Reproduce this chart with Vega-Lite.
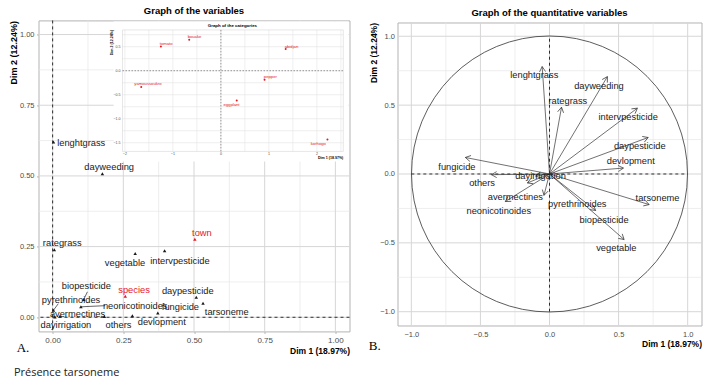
{
  "$schema": "https://vega.github.io/schema/vega-lite/v6.json",
  "padding": {"left": 8.5, "top": 5, "right": 9, "bottom": 5},
  "background": "white",
  "title": {"text": "Présence tarsoneme", "orient": "bottom", "anchor": "start", "font": "Open Sans", "fontSize": 11, "fontWeight": "normal", "color": "#222222", "offset": 11, "dx": 5},
  "datasets": {
    "one": [{}],
    "amaj": [{"v": 0}, {"v": 0.25}, {"v": 0.5}, {"v": 0.75}, {"v": 1}],
    "amin": [{"v": 0.125}, {"v": 0.375}, {"v": 0.625}, {"v": 0.875}],
    "bmaj": [{"v": -1}, {"v": -0.5}, {"v": 0}, {"v": 0.5}, {"v": 1}],
    "bmin": [{"v": -0.75}, {"v": -0.25}, {"v": 0.25}, {"v": 0.75}],
    "avars": [
      {"name": "lenghtgrass", "grp": "quanti", "x": 0.003, "y": 0.62, "lx": 0.101, "ly": 0.615},
      {"name": "dayweeding", "grp": "quanti", "x": 0.176, "y": 0.508, "lx": 0.2, "ly": 0.531},
      {"name": "rategrass", "grp": "quanti", "x": 0.006, "y": 0.239, "lx": 0.034, "ly": 0.262},
      {"name": "vegetable", "grp": "quanti", "x": 0.292, "y": 0.226, "lx": 0.256, "ly": 0.192},
      {"name": "intervpesticide", "grp": "quanti", "x": 0.396, "y": 0.235, "lx": 0.45, "ly": 0.2},
      {"name": "town", "grp": "quali", "x": 0.503, "y": 0.276, "lx": 0.528, "ly": 0.298},
      {"name": "species", "grp": "quali", "x": 0.257, "y": 0.074, "lx": 0.288, "ly": 0.095},
      {"name": "daypesticide", "grp": "quanti", "x": 0.508, "y": 0.071, "lx": 0.478, "ly": 0.094},
      {"name": "tarsoneme", "grp": "quanti", "x": 0.532, "y": 0.05, "lx": 0.616, "ly": 0.017},
      {"name": "fungicide", "grp": "quanti", "x": 0.372, "y": 0.015, "lx": 0.452, "ly": 0.035},
      {"name": "devlopment", "grp": "quanti", "x": 0.282, "y": 0.005, "lx": 0.386, "ly": -0.017},
      {"name": "others", "grp": "quanti", "x": 0.183, "y": 0.003, "lx": 0.233, "ly": -0.028},
      {"name": "neonicotinoides", "grp": "quanti", "x": 0.1, "y": 0.037, "lx": 0.292, "ly": 0.039},
      {"name": "biopesticide", "grp": "quanti", "x": 0.11, "y": 0.063, "lx": 0.119, "ly": 0.11},
      {"name": "pyrethrinoides", "grp": "quanti", "x": 0.003, "y": 0.025, "lx": 0.065, "ly": 0.06},
      {"name": "avermectines", "grp": "quanti", "x": 0.026, "y": 0.004, "lx": 0.088, "ly": 0.012},
      {"name": "dayirrigation", "grp": "quanti", "x": 0.008, "y": 0.001, "lx": 0.047, "ly": -0.029}
    ],
    "aseg": [
      {"x": 0.1, "y": 0.037, "x2": 0.186, "y2": 0.041},
      {"x": 0.11, "y": 0.063, "x2": 0.123, "y2": 0.09},
      {"x": 0.003, "y": 0.025, "x2": 0.02, "y2": 0.048}
    ],
    "cats": [
      {"name": "tomato", "x": -1.25, "y": 0.506, "lx": -1.14, "ly": 0.554},
      {"name": "bouake", "x": -0.66, "y": 0.646, "lx": -0.55, "ly": 0.7},
      {"name": "abidjan", "x": 1.35, "y": 0.45, "lx": 1.47, "ly": 0.5},
      {"name": "yamoussoukro", "x": -1.66, "y": -0.34, "lx": -1.52, "ly": -0.28},
      {"name": "pepper", "x": 0.91, "y": -0.19, "lx": 1.03, "ly": -0.13},
      {"name": "eggplant", "x": 0.33, "y": -0.62, "lx": 0.22, "ly": -0.71},
      {"name": "korhogo", "x": 2.22, "y": -1.43, "lx": 2.03, "ly": -1.52}
    ],
    "igx": [{"v": -2}, {"v": -1.5}, {"v": -1}, {"v": -0.5}, {"v": 0}, {"v": 0.5}, {"v": 1}, {"v": 1.5}, {"v": 2}, {"v": 2.5}],
    "igy": [{"v": -1.5}, {"v": -1.25}, {"v": -1}, {"v": -0.75}, {"v": -0.5}, {"v": -0.25}, {"v": 0}, {"v": 0.25}, {"v": 0.5}, {"v": 0.75}],
    "itx": [{"v": -2}, {"v": -1}, {"v": 0}, {"v": 1}, {"v": 2}],
    "ity": [{"v": -1.5}, {"v": -1}, {"v": -0.5}, {"v": 0}, {"v": 0.5}],
    "bvars": [
      {"name": "lenghtgrass", "x": -0.053, "y": 0.78, "lx": -0.11, "ly": 0.72},
      {"name": "dayweeding", "x": 0.419, "y": 0.707, "lx": 0.358, "ly": 0.642},
      {"name": "rategrass", "x": 0.087, "y": 0.485, "lx": 0.133, "ly": 0.531},
      {"name": "intervpesticide", "x": 0.636, "y": 0.478, "lx": 0.569, "ly": 0.413},
      {"name": "daypesticide", "x": 0.714, "y": 0.265, "lx": 0.653, "ly": 0.2},
      {"name": "devlopment", "x": 0.535, "y": 0.043, "lx": 0.588, "ly": 0.091},
      {"name": "fungicide", "x": -0.609, "y": 0.12, "lx": -0.67, "ly": 0.048},
      {"name": "others", "x": -0.42, "y": -0.005, "lx": -0.488, "ly": -0.065},
      {"name": "dayirrigation", "x": -0.1, "y": -0.015, "lx": -0.065, "ly": -0.012},
      {"name": "avermectines", "x": -0.16, "y": -0.065, "lx": -0.247, "ly": -0.17},
      {"name": "neonicotinoides", "x": -0.32, "y": -0.2, "lx": -0.367, "ly": -0.271},
      {"name": "pyrethrinoides", "x": -0.04, "y": -0.155, "lx": 0.201, "ly": -0.217},
      {"name": "biopesticide", "x": 0.334, "y": -0.265, "lx": 0.395, "ly": -0.331},
      {"name": "vegetable", "x": 0.54, "y": -0.476, "lx": 0.484, "ly": -0.536},
      {"name": "tarsoneme", "x": 0.721, "y": -0.222, "lx": 0.782, "ly": -0.174}
    ]
  },
  "spacing": 17,
  "center": true,
  "hconcat": [
    {
      "width": 311,
      "height": 311,
      "title": {"text": "Graph of the variables"},
      "layer": [
        {
          "layer": [
            {
              "data": {"name": "amin"},
              "mark": {"type": "rule", "color": "#e6e6e6", "strokeWidth": 0.7},
              "encoding": {"x": {"field": "v", "type": "quantitative", "scale": {"domain": [-0.05, 1.05], "nice": false, "zero": false}}}
            },
            {
              "data": {"name": "amin"},
              "mark": {"type": "rule", "color": "#e6e6e6", "strokeWidth": 0.7},
              "encoding": {"y": {"field": "v", "type": "quantitative", "scale": {"domain": [-0.05, 1.05], "nice": false, "zero": false}}}
            },
            {
              "data": {"name": "amaj"},
              "mark": {"type": "rule", "color": "#d6d6d6", "strokeWidth": 1},
              "encoding": {"x": {"field": "v", "type": "quantitative", "scale": {"domain": [-0.05, 1.05], "nice": false, "zero": false}}}
            },
            {
              "data": {"name": "amaj"},
              "mark": {"type": "rule", "color": "#d6d6d6", "strokeWidth": 1},
              "encoding": {"y": {"field": "v", "type": "quantitative", "scale": {"domain": [-0.05, 1.05], "nice": false, "zero": false}}}
            },
            {
              "data": {"name": "one"},
              "mark": {"type": "rule", "strokeDash": [3, 3], "color": "#000000", "strokeWidth": 0.8},
              "encoding": {"x": {"datum": 0, "type": "quantitative", "scale": {"domain": [-0.05, 1.05], "nice": false, "zero": false}}}
            },
            {
              "data": {"name": "one"},
              "mark": {"type": "rule", "strokeDash": [3, 3], "color": "#000000", "strokeWidth": 0.8},
              "encoding": {"y": {"datum": 0, "type": "quantitative", "scale": {"domain": [-0.05, 1.05], "nice": false, "zero": false}}}
            },
            {
              "data": {"name": "aseg"},
              "mark": {"type": "rule", "color": "#222222", "strokeWidth": 0.7},
              "encoding": {
                "x": {"field": "x", "type": "quantitative", "scale": {"domain": [-0.05, 1.05], "nice": false, "zero": false}},
                "y": {"field": "y", "type": "quantitative", "scale": {"domain": [-0.05, 1.05], "nice": false, "zero": false}},
                "x2": {"field": "x2"},
                "y2": {"field": "y2"}
              }
            },
            {
              "data": {"name": "avars"},
              "mark": {"type": "point", "shape": "triangle-up", "filled": true, "size": 12, "opacity": 1},
              "encoding": {
                "x": {
                  "field": "x", "type": "quantitative",
                  "scale": {"domain": [-0.05, 1.05], "nice": false, "zero": false},
                  "axis": {
                    "grid": false,
                    "values": [0, 0.25, 0.5, 0.75, 1],
                    "format": ".2f",
                    "title": "Dim 1 (18.97%)", "titleAnchor": "end",
                    "ticks": true, "tickSize": 2, "tickColor": "#b3b3b3", "labelPadding": 3, "titlePadding": 2
                  }
                },
                "y": {
                  "field": "y", "type": "quantitative",
                  "scale": {"domain": [-0.05, 1.05], "nice": false, "zero": false},
                  "axis": {
                    "grid": false,
                    "values": [0, 0.25, 0.5, 0.75, 1],
                    "format": ".2f",
                    "title": "Dim 2 (12.24%)", "titleAnchor": "end", "titleFontSize": 9,
                    "ticks": true, "tickSize": 2, "tickColor": "#b3b3b3", "labelFontSize": 7.5, "labelPadding": 2.5, "titlePadding": 1
                  }
                },
                "color": {"field": "grp", "type": "nominal", "scale": {"domain": ["quanti", "quali"], "range": ["#1a1a1a", "#e5171f"]}, "legend": null}
              }
            },
            {
              "data": {"name": "avars"},
              "mark": {"type": "text", "fontSize": 9.3},
              "encoding": {
                "x": {"field": "lx", "type": "quantitative", "scale": {"domain": [-0.05, 1.05], "nice": false, "zero": false}},
                "y": {"field": "ly", "type": "quantitative", "scale": {"domain": [-0.05, 1.05], "nice": false, "zero": false}},
                "text": {"field": "name"},
                "color": {"field": "grp", "type": "nominal", "scale": {"domain": ["quanti", "quali"], "range": ["#1a1a1a", "#e5171f"]}, "legend": null}
              }
            },
            {
              "data": {"name": "one"},
              "mark": {"type": "text", "font": "Liberation Serif", "fontSize": 13, "color": "#000000"},
              "encoding": {
                "x": {"datum": -0.105, "type": "quantitative", "scale": {"domain": [-0.05, 1.05], "nice": false, "zero": false}},
                "y": {"datum": -0.109, "type": "quantitative", "scale": {"domain": [-0.05, 1.05], "nice": false, "zero": false}},
                "text": {"value": "A."}
              }
            }
          ]
        },
        {
          "layer": [
            {
              "data": {"name": "one"},
              "mark": {"type": "rect", "color": "#ffffff", "opacity": 1},
              "encoding": {
                "x": {"datum": -2.235, "type": "quantitative", "scale": {"domain": [-2.05, 2.55], "range": [84, 304.8], "nice": false, "zero": false}, "axis": null},
                "x2": {"datum": 2.66},
                "y": {"datum": -1.89, "type": "quantitative", "scale": {"domain": [-1.68, 0.85], "range": [131, 9.5], "nice": false, "zero": false}, "axis": null},
                "y2": {"datum": 1.027}
              }
            },
            {
              "data": {"name": "igx"},
              "mark": {"type": "rule", "color": "#e3e3e3", "strokeWidth": 0.6},
              "encoding": {
                "x": {"field": "v", "type": "quantitative", "scale": {"domain": [-2.05, 2.55], "range": [84, 304.8], "nice": false, "zero": false}, "axis": null},
                "y": {"datum": -1.68, "type": "quantitative", "scale": {"domain": [-1.68, 0.85], "range": [131, 9.5], "nice": false, "zero": false}, "axis": null},
                "y2": {"datum": 0.85}
              }
            },
            {
              "data": {"name": "igy"},
              "mark": {"type": "rule", "color": "#e3e3e3", "strokeWidth": 0.6},
              "encoding": {
                "y": {"field": "v", "type": "quantitative", "scale": {"domain": [-1.68, 0.85], "range": [131, 9.5], "nice": false, "zero": false}, "axis": null},
                "x": {"datum": -2.05, "type": "quantitative", "scale": {"domain": [-2.05, 2.55], "range": [84, 304.8], "nice": false, "zero": false}, "axis": null},
                "x2": {"datum": 2.55}
              }
            },
            {
              "data": {"name": "one"},
              "mark": {"type": "rect", "fillOpacity": 0, "stroke": "#cfcfcf", "strokeWidth": 0.5},
              "encoding": {
                "x": {"datum": -2.05, "type": "quantitative", "scale": {"domain": [-2.05, 2.55], "range": [84, 304.8], "nice": false, "zero": false}, "axis": null},
                "x2": {"datum": 2.55},
                "y": {"datum": -1.68, "type": "quantitative", "scale": {"domain": [-1.68, 0.85], "range": [131, 9.5], "nice": false, "zero": false}, "axis": null},
                "y2": {"datum": 0.85}
              }
            },
            {
              "data": {"name": "one"},
              "mark": {"type": "rule", "strokeDash": [1.5, 1.5], "color": "#555555", "strokeWidth": 0.6},
              "encoding": {
                "x": {"datum": 0, "type": "quantitative", "scale": {"domain": [-2.05, 2.55], "range": [84, 304.8], "nice": false, "zero": false}, "axis": null},
                "y": {"datum": -1.68, "type": "quantitative", "scale": {"domain": [-1.68, 0.85], "range": [131, 9.5], "nice": false, "zero": false}, "axis": null},
                "y2": {"datum": 0.85}
              }
            },
            {
              "data": {"name": "one"},
              "mark": {"type": "rule", "strokeDash": [1.5, 1.5], "color": "#555555", "strokeWidth": 0.6},
              "encoding": {
                "y": {"datum": 0, "type": "quantitative", "scale": {"domain": [-1.68, 0.85], "range": [131, 9.5], "nice": false, "zero": false}, "axis": null},
                "x": {"datum": -2.05, "type": "quantitative", "scale": {"domain": [-2.05, 2.55], "range": [84, 304.8], "nice": false, "zero": false}, "axis": null},
                "x2": {"datum": 2.55}
              }
            },
            {
              "data": {"name": "cats"},
              "mark": {"type": "point", "shape": "circle", "filled": true, "size": 4, "color": "#e5171f", "opacity": 1},
              "encoding": {
                "x": {"field": "x", "type": "quantitative", "scale": {"domain": [-2.05, 2.55], "range": [84, 304.8], "nice": false, "zero": false}, "axis": null},
                "y": {"field": "y", "type": "quantitative", "scale": {"domain": [-1.68, 0.85], "range": [131, 9.5], "nice": false, "zero": false}, "axis": null}
              }
            },
            {
              "data": {"name": "cats"},
              "mark": {"type": "text", "fontSize": 4.2, "color": "#e5171f"},
              "encoding": {
                "x": {"field": "lx", "type": "quantitative", "scale": {"domain": [-2.05, 2.55], "range": [84, 304.8], "nice": false, "zero": false}, "axis": null},
                "y": {"field": "ly", "type": "quantitative", "scale": {"domain": [-1.68, 0.85], "range": [131, 9.5], "nice": false, "zero": false}, "axis": null},
                "text": {"field": "name"}
              }
            },
            {
              "data": {"name": "itx"},
              "mark": {"type": "text", "fontSize": 3.6, "color": "#4d4d4d"},
              "encoding": {
                "x": {"field": "v", "type": "quantitative", "scale": {"domain": [-2.05, 2.55], "range": [84, 304.8], "nice": false, "zero": false}, "axis": null},
                "y": {"datum": -1.744, "type": "quantitative", "scale": {"domain": [-1.68, 0.85], "range": [131, 9.5], "nice": false, "zero": false}, "axis": null},
                "text": {"field": "v", "type": "quantitative", "format": "d"}
              }
            },
            {
              "data": {"name": "ity"},
              "mark": {"type": "text", "fontSize": 3.6, "color": "#4d4d4d", "align": "right"},
              "encoding": {
                "y": {"field": "v", "type": "quantitative", "scale": {"domain": [-1.68, 0.85], "range": [131, 9.5], "nice": false, "zero": false}, "axis": null},
                "x": {"datum": -2.09, "type": "quantitative", "scale": {"domain": [-2.05, 2.55], "range": [84, 304.8], "nice": false, "zero": false}, "axis": null},
                "text": {"field": "v", "type": "quantitative", "format": ".1f"}
              }
            },
            {
              "data": {"name": "one"},
              "mark": {"type": "text", "fontSize": 4.4, "fontWeight": "bold", "color": "#000000"},
              "encoding": {
                "x": {"datum": 0.24, "type": "quantitative", "scale": {"domain": [-2.05, 2.55], "range": [84, 304.8], "nice": false, "zero": false}, "axis": null},
                "y": {"datum": 0.94, "type": "quantitative", "scale": {"domain": [-1.68, 0.85], "range": [131, 9.5], "nice": false, "zero": false}, "axis": null},
                "text": {"value": "Graph of the categories"}
              }
            },
            {
              "data": {"name": "one"},
              "mark": {"type": "text", "fontSize": 3.6, "fontWeight": "bold", "color": "#000000", "align": "right"},
              "encoding": {
                "x": {"datum": 2.55, "type": "quantitative", "scale": {"domain": [-2.05, 2.55], "range": [84, 304.8], "nice": false, "zero": false}, "axis": null},
                "y": {"datum": -1.81, "type": "quantitative", "scale": {"domain": [-1.68, 0.85], "range": [131, 9.5], "nice": false, "zero": false}, "axis": null},
                "text": {"value": "Dim 1 (18.97%)"}
              }
            },
            {
              "data": {"name": "one"},
              "mark": {"type": "text", "fontSize": 3.6, "fontWeight": "bold", "color": "#000000", "angle": 270, "align": "right"},
              "encoding": {
                "x": {"datum": -2.27, "type": "quantitative", "scale": {"domain": [-2.05, 2.55], "range": [84, 304.8], "nice": false, "zero": false}, "axis": null},
                "y": {"datum": 0.85, "type": "quantitative", "scale": {"domain": [-1.68, 0.85], "range": [131, 9.5], "nice": false, "zero": false}, "axis": null},
                "text": {"value": "Dim 2 (12.24%)"}
              }
            }
          ]
        }
      ],
      "resolve": {"scale": {"x": "independent", "y": "independent"}}
    },
    {
      "width": 304,
      "height": 303,
      "title": {"text": "Graph of the quantitative variables"},
      "layer": [
        {
          "data": {"name": "bmin"},
          "mark": {"type": "rule", "color": "#e6e6e6", "strokeWidth": 0.7},
          "encoding": {"x": {"field": "v", "type": "quantitative", "scale": {"domain": [-1.1, 1.1], "nice": false, "zero": false}}}
        },
        {
          "data": {"name": "bmin"},
          "mark": {"type": "rule", "color": "#e6e6e6", "strokeWidth": 0.7},
          "encoding": {"y": {"field": "v", "type": "quantitative", "scale": {"domain": [-1.1, 1.1], "nice": false, "zero": false}}}
        },
        {
          "data": {"name": "bmaj"},
          "mark": {"type": "rule", "color": "#d6d6d6", "strokeWidth": 1},
          "encoding": {"x": {"field": "v", "type": "quantitative", "scale": {"domain": [-1.1, 1.1], "nice": false, "zero": false}}}
        },
        {
          "data": {"name": "bmaj"},
          "mark": {"type": "rule", "color": "#d6d6d6", "strokeWidth": 1},
          "encoding": {"y": {"field": "v", "type": "quantitative", "scale": {"domain": [-1.1, 1.1], "nice": false, "zero": false}}}
        },
        {
          "data": {"name": "one"},
          "mark": {"type": "rule", "strokeDash": [3, 3], "color": "#000000", "strokeWidth": 0.8},
          "encoding": {
            "x": {"datum": -1, "type": "quantitative", "scale": {"domain": [-1.1, 1.1], "nice": false, "zero": false}},
            "x2": {"datum": 1},
            "y": {"datum": 0, "type": "quantitative", "scale": {"domain": [-1.1, 1.1], "nice": false, "zero": false}}
          }
        },
        {
          "data": {"name": "one"},
          "mark": {"type": "rule", "strokeDash": [3, 3], "color": "#000000", "strokeWidth": 0.8},
          "encoding": {
            "y": {"datum": -1, "type": "quantitative", "scale": {"domain": [-1.1, 1.1], "nice": false, "zero": false}},
            "y2": {"datum": 1},
            "x": {"datum": 0, "type": "quantitative", "scale": {"domain": [-1.1, 1.1], "nice": false, "zero": false}}
          }
        },
        {
          "data": {"name": "one"},
          "mark": {"type": "point", "shape": "circle", "filled": false, "size": 76176, "color": "#333333", "strokeWidth": 0.8, "opacity": 1},
          "encoding": {
            "x": {"datum": 0, "type": "quantitative", "scale": {"domain": [-1.1, 1.1], "nice": false, "zero": false}},
            "y": {"datum": 0, "type": "quantitative", "scale": {"domain": [-1.1, 1.1], "nice": false, "zero": false}}
          }
        },
        {
          "data": {"name": "bvars"},
          "mark": {"type": "rule", "color": "#333333", "strokeWidth": 0.7},
          "encoding": {
            "x": {"field": "x", "type": "quantitative", "scale": {"domain": [-1.1, 1.1], "nice": false, "zero": false}},
            "y": {"field": "y", "type": "quantitative", "scale": {"domain": [-1.1, 1.1], "nice": false, "zero": false}},
            "x2": {"datum": 0},
            "y2": {"datum": 0}
          }
        },
        {
          "data": {"name": "bvars"},
          "transform": [{"calculate": "atan2(datum.x, datum.y) * 180 / PI", "as": "heading"}],
          "mark": {"type": "point", "shape": "M-0.5,0.866L0,0L0.5,0.866", "filled": false, "size": 144, "color": "#333333", "strokeWidth": 0.7, "opacity": 1},
          "encoding": {
            "x": {
              "field": "x", "type": "quantitative",
              "scale": {"domain": [-1.1, 1.1], "nice": false, "zero": false},
              "axis": {
                "grid": false,
                "values": [-1, -0.5, 0, 0.5, 1],
                "format": ".1f",
                "title": "Dim 1 (18.97%)", "titleAnchor": "end",
                "ticks": false, "labelPadding": 5, "labelFontSize": 7.5, "titlePadding": 2
              }
            },
            "y": {
              "field": "y", "type": "quantitative",
              "scale": {"domain": [-1.1, 1.1], "nice": false, "zero": false},
              "axis": {
                "grid": false,
                "values": [-1, -0.5, 0, 0.5, 1],
                "format": ".1f",
                "title": "Dim 2 (12.24%)", "titleAnchor": "end",
                "ticks": false, "labelPadding": 3, "labelFontSize": 7.5, "titlePadding": 1
              }
            },
            "angle": {"field": "heading", "type": "quantitative", "scale": {"domain": [-180, 180], "range": [-180, 180]}}
          }
        },
        {
          "data": {"name": "bvars"},
          "mark": {"type": "text", "fontSize": 9.3, "color": "#1a1a1a"},
          "encoding": {
            "x": {"field": "lx", "type": "quantitative", "scale": {"domain": [-1.1, 1.1], "nice": false, "zero": false}},
            "y": {"field": "ly", "type": "quantitative", "scale": {"domain": [-1.1, 1.1], "nice": false, "zero": false}},
            "text": {"field": "name"}
          }
        },
        {
          "data": {"name": "one"},
          "mark": {"type": "text", "font": "Liberation Serif", "fontSize": 13, "color": "#000000"},
          "encoding": {
            "x": {"datum": -1.265, "type": "quantitative", "scale": {"domain": [-1.1, 1.1], "nice": false, "zero": false}},
            "y": {"datum": -1.249, "type": "quantitative", "scale": {"domain": [-1.1, 1.1], "nice": false, "zero": false}},
            "text": {"value": "B."}
          }
        }
      ]
    }
  ],
  "config": {
    "font": "Liberation Sans",
    "view": {"stroke": "#b3b3b3", "strokeWidth": 1},
    "title": {"fontSize": 9.5, "fontWeight": "bold", "color": "#000000", "offset": 4.5},
    "axis": {
      "labelFontSize": 8, "labelColor": "#4d4d4d", "titleFontSize": 8.5, "titleFontWeight": "bold", "titleColor": "#000000",
      "domain": false, "labelOverlap": false
    }
  }
}
